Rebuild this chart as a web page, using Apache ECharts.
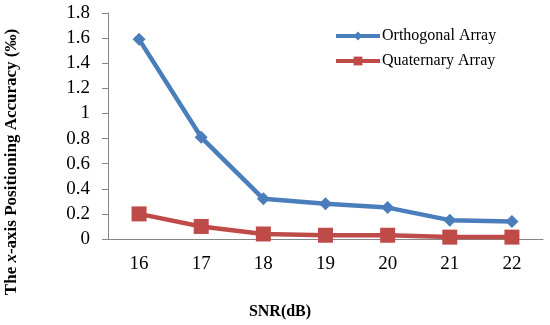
<!DOCTYPE html>
<html><head><meta charset="utf-8">
<script src="https://cdn.jsdelivr.net/npm/echarts@6/dist/echarts.min.js"></script>
<style>html,body{margin:0;padding:0;background:#fff}#c{width:550px;height:325px}</style>
</head><body><div id="c"></div>
<script>
const categories = ['16','17','18','19','20','21','22'];
const orthogonal = [1.59, 0.81, 0.32, 0.28, 0.25, 0.15, 0.14];
const quaternary = [0.20, 0.10, 0.04, 0.03, 0.03, 0.015, 0.015];
const seriesNames = ['Orthogonal Array', 'Quaternary Array'];
const yTicks = {min: 0, max: 1.8, interval: 0.2};

const serif = 'Liberation Serif';
const chart = echarts.init(document.getElementById('c'));
chart.setOption({
  animation: false,
  backgroundColor: '#fff',
  textStyle: {fontFamily: serif},
  grid: {left: 108, right: 7, top: 13, bottom: 86},
  legend: {
    orient: 'vertical', left: 329, top: 23, itemWidth: 44, itemHeight: 11, itemGap: 9,
    lineStyle: {width: 4},
    textStyle: {fontFamily: serif, fontSize: 16, color: '#000', padding: [0, 0, 0, -3]},
    data: seriesNames
  },
  xAxis: {
    type: 'category', data: categories, boundaryGap: true,
    axisLine: {lineStyle: {color: '#868686', width: 1}},
    axisTick: {show: false},
    axisLabel: {fontFamily: serif, fontSize: 19, color: '#000', margin: 16}
  },
  yAxis: {
    type: 'value', min: yTicks.min, max: yTicks.max, interval: yTicks.interval,
    splitLine: {show: false},
    axisLine: {show: true, lineStyle: {color: '#868686', width: 1}},
    axisTick: {show: true, length: 6, lineStyle: {color: '#868686'}},
    axisLabel: {fontFamily: serif, fontSize: 19, color: '#000', margin: 18,
      formatter: v => String(Math.round(v * 10) / 10)}
  },
  graphic: [
    {type: 'text', x: 12, y: 162, rotation: Math.PI / 2,
      style: {text: '{b|The }{i|x}{b|-axis Positioning Accuracy (‰)}', align: 'center', verticalAlign: 'middle',
        rich: {b: {fontFamily: serif, fontSize: 17, fontWeight: 'bold', fill: '#000'},
               i: {fontFamily: serif, fontSize: 17, fontWeight: 'bold', fontStyle: 'italic', fill: '#000'}}}},
    {type: 'text', x: 280, y: 312,
      style: {text: 'SNR(dB)', align: 'center', verticalAlign: 'middle',
        font: 'bold 16px "Liberation Serif"', fill: '#000'}}
  ],
  series: [
    {name: seriesNames[0], type: 'line', data: orthogonal, symbol: 'diamond', symbolSize: 13,
      lineStyle: {color: '#4A7EBB', width: 4.5}, itemStyle: {color: '#4A7EBB'}},
    {name: seriesNames[1], type: 'line', data: quaternary, symbol: 'rect', symbolSize: 15,
      lineStyle: {color: '#BE4B48', width: 4.5}, itemStyle: {color: '#BE4B48'}}
  ]
});
</script></body></html>
